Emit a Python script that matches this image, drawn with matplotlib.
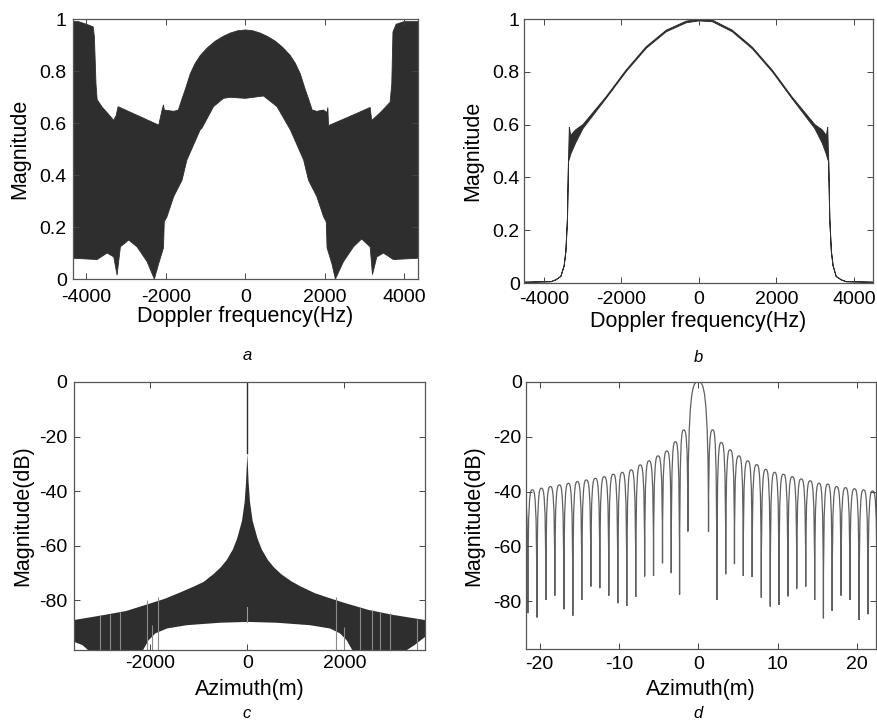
import numpy as np
import matplotlib
matplotlib.use('Agg')
import matplotlib.pyplot as plt
from matplotlib.path import Path
from matplotlib.patches import PathPatch

plt.rcParams['font.family'] = ['Liberation Sans', 'DejaVu Sans']
plt.rcParams['axes.unicode_minus'] = False

# panel a - envelope of the dense doppler spectrum (Hz, magnitude)
freq_a_up = [-4350, -4200, -4000, -3830, -3800, -3760, -3731, -3600, -3480, -3313, -3250,
             -3203, -2180, -2110, -2096, -2060, -2040, -1800, -1686, -1600, -1509, -1384,
             -1260, -1132, -950, -755, -560, -377, -190, 0, 190, 377, 560, 755, 950, 1132,
             1260, 1384, 1509, 1600, 1686, 1800, 1970, 2055, 2080, 2096, 2400, 2808, 3145,
             3186, 3400, 3648, 3690, 3720, 3800, 4000, 4350]
mag_a_up = [0.99, 0.99, 0.98, 0.97, 0.93, 0.75, 0.69, 0.66, 0.64, 0.61, 0.63,
            0.663, 0.592, 0.64, 0.65, 0.67, 0.65, 0.645, 0.65, 0.69, 0.73, 0.79,
            0.83, 0.86, 0.89, 0.915, 0.933, 0.946, 0.955, 0.958, 0.955, 0.946, 0.933, 0.915, 0.89, 0.86,
            0.83, 0.79, 0.73, 0.69, 0.65, 0.645, 0.65, 0.64, 0.66, 0.59, 0.61, 0.637, 0.66,
            0.61, 0.64, 0.68, 0.75, 0.95, 0.98, 0.99, 0.99]
freq_a_low = [-4350, -3731, -3480, -3313, -3229, -3145, -2936, -2726, -2474, -2290, -2180,
              -2060, -2040, -1971, -1803, -1593, -1470, -1135, -1092, -800, -550, -377, 0,
              461, 800, 1135, 1470, 1593, 1803, 1971, 2040, 2060, 2180, 2270, 2474, 2726,
              2930, 3145, 3204, 3313, 3480, 3731, 4350]
mag_a_low = [0.08, 0.075, 0.10, 0.085, 0.015, 0.124, 0.15, 0.124, 0.067, 0.0, 0.06,
             0.12, 0.22, 0.24, 0.317, 0.38, 0.458, 0.574, 0.58, 0.663, 0.695, 0.699, 0.695,
             0.704, 0.663, 0.574, 0.458, 0.38, 0.317, 0.24, 0.22, 0.12, 0.06, 0.0, 0.067, 0.124,
             0.154, 0.124, 0.017, 0.085, 0.10, 0.075, 0.08]

# panel b - compensated spectrum
freq_b = [-4500, -3810, -3690, -3560, -3475, -3430, -3390, -3362, -3340, -3320, -3300,
          -3180, -2990, -2390, -1875, -1360, -840, -325, 0, 346, 860, 1380, 1900, 2400,
          2990, 3180, 3280, 3300, 3320, 3345, 3375, 3415, 3460, 3540, 3670, 3800, 4500]
mag_b_up = [0.003, 0.005, 0.012, 0.025, 0.065, 0.12, 0.24, 0.47, 0.59, 0.57, 0.56,
            0.58, 0.60, 0.706, 0.807, 0.895, 0.958, 0.992, 0.999, 0.996, 0.958, 0.893, 0.805, 0.705,
            0.60, 0.58, 0.56, 0.57, 0.59, 0.47, 0.24, 0.12, 0.065, 0.025, 0.012, 0.005, 0.003]
mag_b_low = [0.003, 0.005, 0.012, 0.025, 0.065, 0.12, 0.24, 0.46, 0.47, 0.48, 0.49,
             0.53, 0.585, 0.700, 0.801, 0.889, 0.952, 0.986, 0.993, 0.990, 0.952, 0.887, 0.799, 0.699,
             0.585, 0.53, 0.49, 0.48, 0.47, 0.46, 0.24, 0.12, 0.065, 0.025, 0.012, 0.005, 0.003]

# panel c - azimuth profile in dB (m, dB)
azi_c_up = [-3575, -3000, -2500, -2000, -1700, -1400, -1100, -900, -700, -550, -425,
            -300, -212, -110, -55, -27, 0, 27, 55, 110, 212, 300, 425, 550, 700, 900,
            1100, 1400, 1700, 2000, 2500, 3000, 3665]
db_c_up = [-87.3, -85.6, -84.0, -81.2, -79.5, -77.3, -75.0, -73.3, -70.5, -68.0, -65.3,
           -61.5, -57.5, -51.0, -44.0, -37.0, -26.2, -37.0, -44.0, -51.0, -57.5, -61.5, -65.3,
           -68.0, -70.5, -73.0, -75.0, -77.5, -79.3, -81.0, -83.6, -85.4, -87.3]
azi_c_low = [-3575, -3400, -3244, -2172, -2036, -1897, -1656, -1250, -563, 0, 606, 1293,
             1705, 1911, 2049, 2186, 3230, 3450, 3665]
db_c_low = [-95.3, -96.5, -99.0, -99.0, -94.7, -92.2, -90.4, -89.2, -88.3, -88.0, -88.3, -89.2,
            -90.4, -92.2, -94.7, -99.0, -99.0, -96.5, -93.5]
stripe_x_c = [-3030, -2825, -2620, -2060, -1970, -1840, 1835, 1986, 2330, 2570, 2742, 2948, 3500]
stripe_top_c = [-85.6, -85.0, -84.5, -80.0, -89.0, -79.0, -79.0, -90.0, -82.8, -83.6, -84.2, -84.9, -86.8]
spike_x_c = 0
spike_top_c = 0.0

# panel d - sidelobe structure (null positions, null depths, lobe peaks)
null_x_d = [-22.6, -21.47, -20.33, -19.2, -18.07, -16.93, -15.8, -14.67, -13.53, -12.4, -11.27,
            -10.13, -9.0, -7.87, -6.75, -5.63, -4.5, -3.4, -2.35, -1.3,
            1.3, 2.35, 3.47, 4.57, 5.68, 6.8, 7.95, 9.08, 10.18, 11.3, 12.42, 13.55, 14.68,
            15.78, 16.88, 18.0, 19.12, 20.28, 21.4, 22.55]
null_db_d = [-85.0, -84.4, -86.0, -79.6, -78.0, -83.0, -85.3, -79.6, -74.7, -75.3, -78.0,
             -80.8, -81.8, -78.5, -71.0, -70.8, -66.2, -69.8, -77.7, -54.6,
             -54.6, -79.6, -70.2, -66.5, -70.8, -71.2, -78.7, -82.0, -81.4, -78.3, -75.5, -74.7,
             -79.6, -86.3, -83.6, -78.0, -79.6, -86.9, -84.8, -85.0]
peak_db_d = [-40.0, -39.4, -38.8, -38.2, -37.6, -37.0, -36.4, -35.8, -35.2, -34.6, -33.7,
             -33.0, -32.1, -30.3, -28.8, -27.0, -25.2, -21.8, -17.5,
             0.0,
             -17.5, -22.1, -24.8, -27.0, -28.8, -30.2, -31.9, -33.0, -33.7, -34.6, -35.4, -36.1,
             -37.0, -37.3, -38.2, -38.6, -39.0, -39.4, -39.8]

dark = '#2e2e2e'
tick_fs = 14
label_fs = 15.5

fig = plt.figure(figsize=(8.77, 7.24), dpi=100)
ax_a = fig.add_axes([0.0832, 0.6146, 0.3934, 0.3591])
ax_b = fig.add_axes([0.5975, 0.6091, 0.3980, 0.3646])
ax_c = fig.add_axes([0.0844, 0.1022, 0.4002, 0.3702])
ax_d = fig.add_axes([0.5998, 0.1036, 0.3990, 0.3688])


def style(ax, xlabel, ylabel, xpad, ypad, xl_pos, yl_pos):
    ax.tick_params(direction='in', top=True, right=True, length=4, width=0.7,
                   labelsize=tick_fs, color='#444444')
    ax.tick_params(axis='x', pad=xpad)
    ax.tick_params(axis='y', pad=ypad)
    for s in ax.spines.values():
        s.set_color('#555555')
        s.set_linewidth(0.9)
    ax.set_xlabel(xlabel, fontsize=label_fs, va='center')
    ax.set_ylabel(ylabel, fontsize=label_fs, va='center')
    ax.xaxis.set_label_coords(0.5, xl_pos)
    ax.yaxis.set_label_coords(yl_pos, 0.5)


# a
ax_a.fill(freq_a_up + freq_a_low[::-1], mag_a_up + mag_a_low[::-1], color=dark, lw=0.6)
ax_a.set_xlim(-4340, 4350)
ax_a.set_ylim(0, 1)
ax_a.set_xticks([-4000, -2000, 0, 2000, 4000])
ax_a.set_xticklabels(['-4000', '-2000', '0', '2000', '4000'])
ax_a.set_yticks([0, 0.2, 0.4, 0.6, 0.8, 1])
ax_a.set_yticklabels(['0', '0.2', '0.4', '0.6', '0.8', '1'])
style(ax_a, 'Doppler frequency(Hz)', 'Magnitude', 7, 4.5, -0.146, -0.153)

# b
ax_b.fill(freq_b + freq_b[::-1], mag_b_up + mag_b_low[::-1], color=dark, lw=0.7)
ax_b.set_xlim(-4510, 4490)
ax_b.set_ylim(0, 1)
ax_b.set_xticks([-4000, -2000, 0, 2000, 4000])
ax_b.set_xticklabels(['-4000', '-2000', '0', '2000', '4000'])
ax_b.set_yticks([0, 0.2, 0.4, 0.6, 0.8, 1])
ax_b.set_yticklabels(['0', '0.2', '0.4', '0.6', '0.8', '1'])
style(ax_b, 'Doppler frequency(Hz)', 'Magnitude', 6, 3, -0.147, -0.148)

# c
ax_c.fill(azi_c_up + azi_c_low[::-1], db_c_up + db_c_low[::-1], color=dark, lw=0)
ax_c.vlines(stripe_x_c, -99, stripe_top_c, color='#8a8a8a', lw=0.8)
ax_c.plot([spike_x_c, spike_x_c], [db_c_up[16], spike_top_c], color=dark, lw=1.0)
ax_c.plot([0, 0], [-88.0, -82.5], color='#9a9a9a', lw=0.8)
ax_c.set_xlim(-3575, 3665)
ax_c.set_ylim(-98.3, 0)
ax_c.set_xticks([-2000, 0, 2000])
ax_c.set_xticklabels(['-2000', '0', '2000'])
ax_c.set_yticks([0, -20, -40, -60, -80])
ax_c.set_yticklabels(['0', '-20', '-40', '-60', '-80'])
style(ax_c, 'Azimuth(m)', 'Magnitude(dB)', 3.5, 5, -0.146, -0.145)

# d - each lobe drawn as bezier from null to peak to next null
verts = [(null_x_d[0], null_db_d[0])]
codes = [Path.MOVETO]
for i in range(len(peak_db_d)):
    xa, xb = null_x_d[i], null_x_d[i + 1]
    xm = (xa + xb) / 2
    p = peak_db_d[i]
    verts += [(xa, p), ((xa + xm) / 2, p), (xm, p),
              ((xm + xb) / 2, p), (xb, p), (xb, null_db_d[i + 1])]
    codes += [Path.CURVE4] * 6
ax_d.add_patch(PathPatch(Path(verts, codes), fill=False, edgecolor='#606060', lw=0.9))
ax_d.set_xlim(-21.7, 22.4)
ax_d.set_ylim(-97.5, 0)
ax_d.set_xticks([-20, -10, 0, 10, 20])
ax_d.set_xticklabels(['-20', '-10', '0', '10', '20'])
ax_d.set_yticks([0, -20, -40, -60, -80])
ax_d.set_yticklabels(['0', '-20', '-40', '-60', '-80'])
style(ax_d, 'Azimuth(m)', 'Magnitude(dB)', 5, 3, -0.15, -0.148)

# panel letters
for txt, x, y in [('a', 247, 355), ('b', 698, 357), ('c', 247, 714), ('d', 698, 714)]:
    fig.text(x / 877, 1 - y / 724, txt, fontsize=12, style='italic', ha='center', va='center')

fig.savefig('out.png', dpi=100)
